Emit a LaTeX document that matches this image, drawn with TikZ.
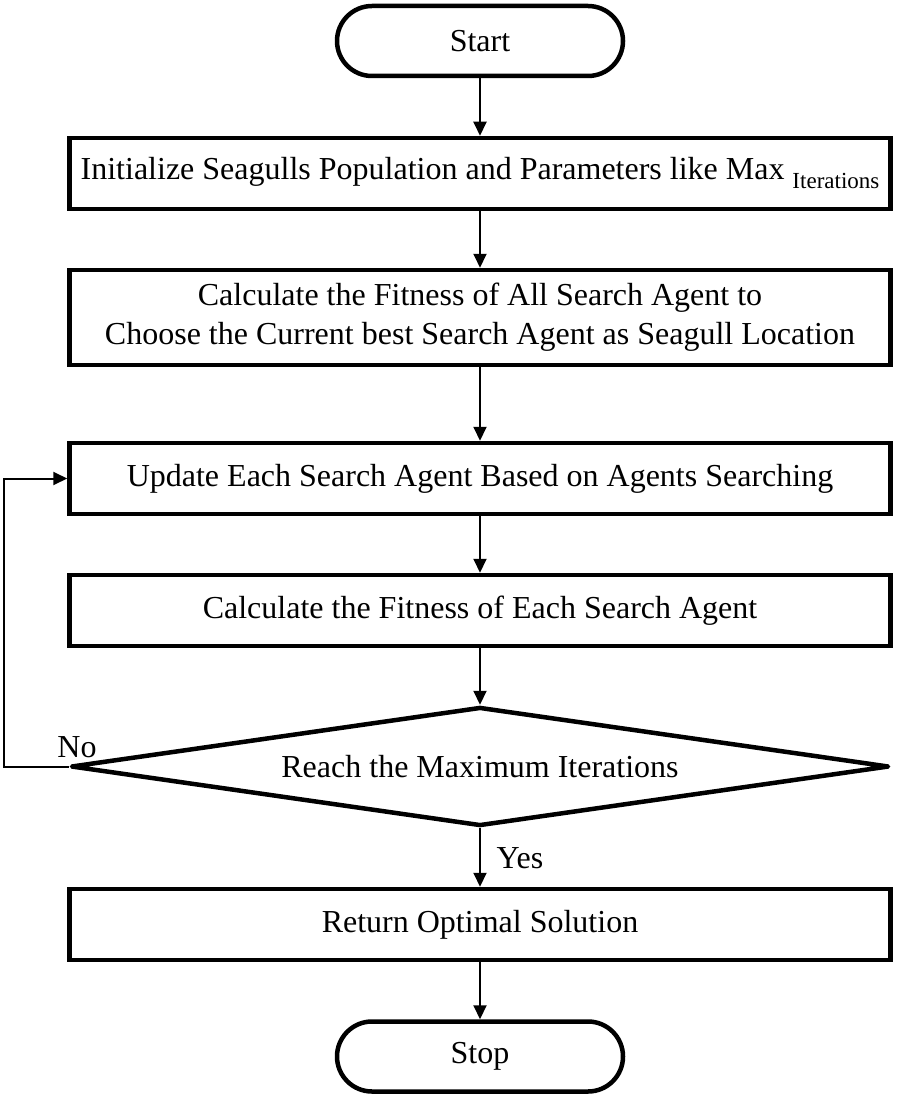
\documentclass[tikz,border=0pt]{standalone}
\usepackage{fontspec}
\setmainfont{Liberation Serif}
\usetikzlibrary{arrows.meta,shapes.geometric}
\begin{document}
\begin{tikzpicture}[x=1pt,y=-1pt,
  font=\fontsize{32}{39}\selectfont,
  procbox/.style={draw, line width=4.5pt, rectangle, minimum width=821pt, inner sep=0pt, align=center},
  termbox/.style={draw, line width=4.5pt, rectangle, rounded corners=35pt, minimum width=286pt, minimum height=70pt, inner sep=0pt},
  decbox/.style={draw, line width=4.5pt, diamond, aspect=6.87, line join=round, minimum width=818pt, minimum height=119pt, inner sep=0pt},
  arr/.style={-{Triangle[length=14pt,width=13pt]}, line width=2pt},
  lbl/.style={inner sep=0pt}]
\useasboundingbox (0,0) rectangle (902,1099);

\node[termbox] (st) at (480,41) {Start};
\node[procbox, minimum height=71pt] (b1) at (480,173.5) {Initialize Seagulls Population and Parameters like Max \raisebox{-9pt}{\fontsize{23}{23}\selectfont Iterations}};
\node[procbox, minimum height=95pt] (b2) at (480,317.5) {Calculate the Fitness of All Search Agent to\\Choose the Current best Search Agent as Seagull Location};
\node[procbox, minimum height=71pt] (b3) at (480,478.5) {Update Each Search Agent Based on Agents Searching};
\node[procbox, minimum height=71pt] (b4) at (480,610.5) {Calculate the Fitness of Each Search Agent};
\node[decbox] (d) at (480,766.5) {Reach the Maximum Iterations};
\node[procbox, minimum height=71pt] (b5) at (480,924.5) {Return Optimal Solution};
\node[termbox] (sp) at (480,1056.5) {Stop};

\node[lbl] (no) at (77,747) {No};
\node[lbl] (yes) at (520,858) {Yes};

\coordinate (lp) at (4,766.5);

\draw[arr] (st) -- (b1);
\draw[arr] (b1) -- (b2);
\draw[arr] (b2) -- (b3);
\draw[arr] (b3) -- (b4);
\draw[arr] (b4) -- (d);
\draw[arr] (d) -- (b5);
\draw[arr] (b5) -- (sp);
\draw[arr] (d.west) -- (lp) |- (b3.west);
\end{tikzpicture}
\end{document}
